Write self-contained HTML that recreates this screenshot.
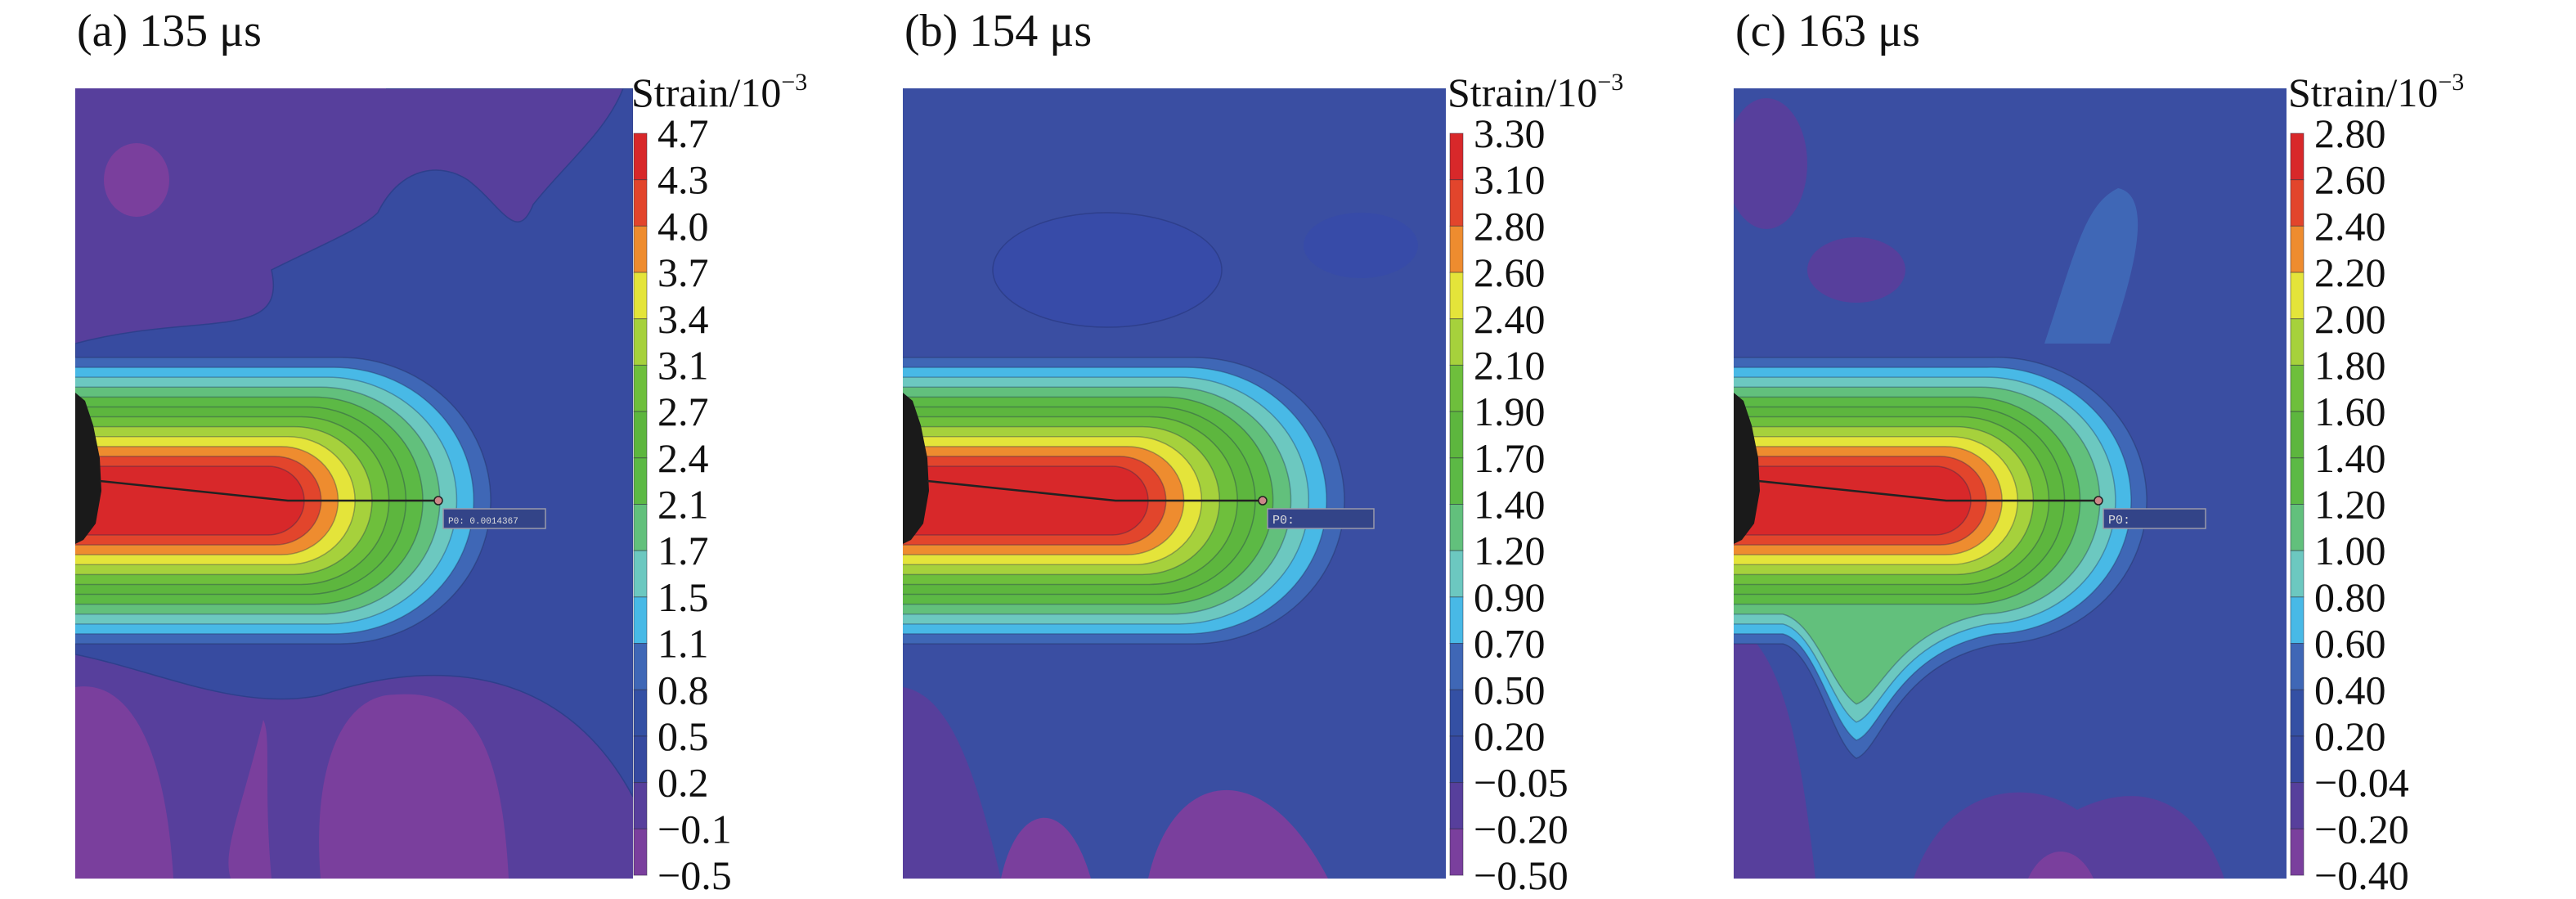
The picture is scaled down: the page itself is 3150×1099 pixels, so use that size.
<!DOCTYPE html>
<html><head><meta charset="utf-8"><style>
html,body{margin:0;padding:0;background:#fff;width:3150px;height:1099px;overflow:hidden}
text{font-family:"Liberation Serif",serif;fill:#111}
</style></head><body>
<svg id="fig" width="3150" height="1099" viewBox="0 0 3150 1099" xmlns="http://www.w3.org/2000/svg"></svg>
<script>
const panelTitles = ["(a) 135 μs", "(b) 154 μs", "(c) 163 μs"];
const labelsA = ["4.7","4.3","4.0","3.7","3.4","3.1","2.7","2.4","2.1","1.7","1.5","1.1","0.8","0.5","0.2","−0.1","−0.5"];
const labelsB = ["3.30","3.10","2.80","2.60","2.40","2.10","1.90","1.70","1.40","1.20","0.90","0.70","0.50","0.20","−0.05","−0.20","−0.50"];
const labelsC = ["2.80","2.60","2.40","2.20","2.00","1.80","1.60","1.40","1.20","1.00","0.80","0.60","0.40","0.20","−0.04","−0.20","−0.40"];
const cellColors = ["#d8282a","#e2452c","#ee8c2f","#e4e43a","#a6d13c","#6ebf3c","#5db63e","#5cb945","#62c07c","#6cc8c0","#48b9e6","#3f67b6","#3450a4","#364aa0","#573f9c","#7a3f9d"];
const plumeLenOuter = [508, 540, 500];
const plumeLenRed = [280, 300, 290];
const probeText = ["P0: 0.0014367","P0:","P0:"];

const NS="http://www.w3.org/2000/svg";
const svg=document.getElementById('fig');
function mk(tag,attrs,parent){const e=document.createElementNS(NS,tag);for(const k in attrs)e.setAttribute(k,attrs[k]);(parent||svg).appendChild(e);return e;}

const px=[92,1104,2120], pw=[682,664,676], cbx=[774,1772,2800];
const Y0=108,Y1=1074,CB0=163,CB1=1070;
const allLabels=[labelsA,labelsB,labelsC];
const bgCol=["#573f9c","#3a4ea2","#3a4ea2"];

for(let p=0;p<3;p++){
  const g=mk('g',{});
  
  
  const t=mk('text',{x:px[p]+2,y:56,'font-size':56},g);t.textContent=panelTitles[p];
  
  const clipId='clip'+p;
  const cp=mk('clipPath',{id:clipId},g);mk('rect',{x:px[p],y:Y0,width:pw[p],height:Y1-Y0},cp);
  const f=mk('g',{'clip-path':'url(#'+clipId+')'},g);
  
  mk('rect',{x:px[p],y:Y0,width:pw[p],height:Y1-Y0,fill:bgCol[p]},f);
  const x0=px[p];
  if(p===0){
    mk('path',{d:`M${x0+380} ${Y0} H${x0+682} V${Y1-100} C${x0+600} 820 ${x0+450} 800 ${x0+300} 850 C${x0+200} 870 ${x0+100} 820 ${x0} 800 V420 C${x0+150} 380 ${x0+260} 420 ${x0+240} 330 C${x0+300} 300 ${x0+350} 280 ${x0+370} 260 C${x0+400} 200 ${x0+450} 200 ${x0+480} 220 C${x0+520} 250 ${x0+540} 300 ${x0+560} 250 C${x0+600} 200 ${x0+650} 160 ${x0+670} ${Y0}Z`,fill:'#374ba0',stroke:'#2e3f8c','stroke-width':1.5},f);
    mk('ellipse',{cx:x0+75,cy:220,rx:40,ry:45,fill:'#7a3f9d'},f);
    mk('path',{d:`M${x0+300} ${Y1} C${x0+290} 950 ${x0+320} 860 ${x0+380} 850 C${x0+470} 840 ${x0+520} 880 ${x0+530} ${Y1}Z`,fill:'#7a3f9d'},f);
    mk('path',{d:`M${x0} ${Y1} V840 C${x0+60} 830 ${x0+110} 900 ${x0+120} ${Y1}Z`,fill:'#7a3f9d'},f);
    mk('path',{d:`M${x0+240} ${Y1} C${x0+230} 960 ${x0+240} 900 ${x0+230} 880 C${x0+200} 1000 ${x0+180} 1040 ${x0+190} ${Y1}Z`,fill:'#7a3f9d'},f);
  } else if(p===1){
    mk('path',{d:`M${x0} ${Y1} V840 C${x0+60} 850 ${x0+90} 950 ${x0+120} ${Y1}Z`,fill:'#573f9c'},f);
    mk('path',{d:`M${x0+120} ${Y1} C${x0+140} 980 ${x0+200} 970 ${x0+230} ${Y1}Z`,fill:'#7a3f9d'},f);
    mk('path',{d:`M${x0+300} ${Y1} C${x0+330} 940 ${x0+440} 920 ${x0+520} ${Y1}Z`,fill:'#7a3f9d'},f);
    mk('ellipse',{cx:x0+250,cy:330,rx:140,ry:70,fill:'#374ba8',stroke:'#2e3f8c','stroke-width':1.5},f);
    mk('ellipse',{cx:x0+560,cy:300,rx:70,ry:40,fill:'#374ba8'},f);
  } else {
    mk('ellipse',{cx:x0+40,cy:200,rx:50,ry:80,fill:'#573f9c'},f);
    mk('ellipse',{cx:x0+150,cy:330,rx:60,ry:40,fill:'#573f9c'},f);
    mk('path',{d:`M${x0+380} 420 C${x0+420} 300 ${x0+430} 250 ${x0+470} 230 C${x0+520} 240 ${x0+480} 360 ${x0+460} 420Z`,fill:'#3f67b6'},f);
    mk('path',{d:`M${x0} ${Y1} V760 C${x0+60} 800 ${x0+80} 900 ${x0+100} ${Y1}Z`,fill:'#573f9c'},f);
    mk('path',{d:`M${x0+220} ${Y1} C${x0+260} 960 ${x0+360} 950 ${x0+420} 990 C${x0+480} 960 ${x0+560} 960 ${x0+600} ${Y1}Z`,fill:'#573f9c'},f);
    mk('path',{d:`M${x0+360} ${Y1} C${x0+380} 1030 ${x0+420} 1030 ${x0+440} ${Y1}Z`,fill:'#7a3f9d'},f);
  }
  const cy=612;
  for(let k=11;k>=0;k--){
    const frac=k/11;
    const L=plumeLenRed[p]+(plumeLenOuter[p]-plumeLenRed[p])*frac;
    const h=42+(175-42)*frac;
    const rx=Math.min(h*1.05,L*0.6);
    let d=`M${x0-5} ${cy-h} H${x0+L-rx} A${rx} ${h} 0 0 1 ${x0+L-rx} ${cy+h} H${x0-5}Z`;
    if(p===2 && k>=8 && k<=11){
      const dd=(11-k)*10;
      d=`M${x0-5} ${cy-h} H${x0+L-rx} A${rx} ${h} 0 0 1 ${x0+L-rx+10} ${cy+h} C${x0+200} ${cy+h+20} ${x0+180} ${cy+h+130-dd} ${x0+150} ${cy+h+140-dd} C${x0+120} ${cy+h+120-dd} ${x0+100} ${cy+h+10} ${x0+60} ${cy+h} H${x0-5}Z`;
    }
    const e=mk('path',{d:d,fill:cellColors[k],stroke:'rgba(30,40,80,0.35)','stroke-width':1.5},f);
    
    
  }
  mk('path',{d:`M${x0} 480 L${x0+12} 490 L${x0+22} 520 L${x0+30} 560 L${x0+32} 600 L${x0+25} 640 L${x0+10} 660 L${x0} 665Z`,fill:'#1a1a1a'},f);
  const ex=x0+[444,440,446][p];
  mk('path',{d:`M${x0+30} 588 L${x0+260} 612 L${ex} 612`,stroke:'#222',fill:'none','stroke-width':2.5},f);
  mk('circle',{cx:ex,cy:612,r:5,fill:'#c88','stroke':'#222','stroke-width':1.5},f);
  const bw=[125,130,125][p];
  const pb=mk('rect',{x:ex+6,y:622,width:bw,height:24,fill:'#334488',stroke:'#99a','stroke-width':1.5},f);
  
  const ptt=mk('text',{x:ex+12,y:640,'font-size':p===0?11:15,style:'fill:#ddd;font-family:"Liberation Mono",monospace'},f);ptt.textContent=probeText[p];
  const cb=mk('g',{},g);
  
  const ct=mk('text',{x:cbx[p]-2,y:130,'font-size':50},cb);ct.textContent='Strain/10';
  const sup=mk('tspan',{dy:-20,'font-size':30},ct);sup.textContent='−3';
  const n=cellColors.length, step=(CB1-CB0)/n;
  for(let i=0;i<n;i++){
    const r=mk('rect',{x:cbx[p]+1,y:CB0+i*step,width:16,height:step,fill:cellColors[i],stroke:'rgba(40,40,60,0.5)','stroke-width':1},cb);
    
  }
  const labs=allLabels[p];
  for(let i=0;i<labs.length;i++){
    const lt=mk('text',{x:cbx[p]+30,y:CB0+i*step+17,'font-size':50},cb);lt.textContent=labs[i];
    
  }
}
</script>
</body></html>
